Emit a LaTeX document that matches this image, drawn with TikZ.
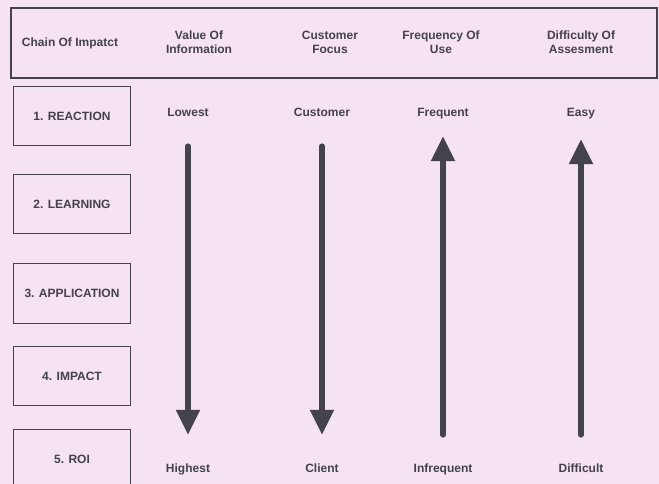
\documentclass[tikz,border=0pt]{standalone}
\usepackage{fontspec}
\setmainfont{Liberation Sans}
\usetikzlibrary{positioning, arrows.meta}

\definecolor{scanpink}{RGB}{245,226,243}
\definecolor{inkgray}{RGB}{68,66,76}

\begin{document}
\begin{tikzpicture}[
x=1pt, y=-1pt,
    header/.style={draw=inkgray, line width=1.8pt, minimum width=646pt, minimum height=70pt, anchor=north west, inner sep=0pt},
    level/.style={draw=inkgray, line width=1pt, minimum width=117pt, minimum height=59pt, anchor=north west, font=\bfseries\fontsize{12}{14}\selectfont, text=inkgray},
    colhead/.style={align=center, font=\bfseries\fontsize{12}{14}\selectfont, text=inkgray},
    endlabel/.style={inner sep=2pt, text height=9pt, text depth=3pt, font=\bfseries\fontsize{12}{14}\selectfont, text=inkgray},
    trend/.style={draw=inkgray, line width=5.5pt, line cap=round, -{Triangle[width=23pt, length=25pt]}}
]

    % --- Page and scanned background ---
    \useasboundingbox (0,0) rectangle (659,484);
    \clip (0,0) rectangle (659,484);
    \fill[scanpink] (0,0) rectangle (659,484);

    % --- Header row ---
    \node[header] (head) at (10,7) {};
    \node[colhead] (hchain) at (70,43) {Chain Of Impatct};
    \node[colhead] (hvalue) at (199,42) {Value Of\\Information};
    \node[colhead] (hfocus) at (330,42) {Customer\\Focus};
    \node[colhead] (hfreq) at (441,42) {Frequency Of\\Use};
    \node[colhead] (hdiff) at (581,42) {Difficulty Of\\Assesment};

    % --- Levels of the chain ---
    \node[level] (reaction) at (13,86) {1. REACTION};
    \node[level] (learning) at (13,174) {2. LEARNING};
    \node[level, minimum height=60pt] (application) at (13,263) {3. APPLICATION};
    \node[level] (impact) at (13,346) {4. IMPACT};
    \node[level] (roi) at (13,429) {5. ROI};

    % --- Labels at both ends of the arrows ---
    \node[endlabel] (lowest) at (188,114) {Lowest};
    \node[endlabel] (highest) at (188,469) {Highest};
    \node[endlabel] (customer) at (322,114) {Customer};
    \node[endlabel] (client) at (322,469) {Client};
    \node[endlabel] (frequent) at (443,114) {Frequent};
    \node[endlabel] (infrequent) at (443,469) {Infrequent};
    \node[endlabel] (easy) at (581,114) {Easy};
    \node[endlabel] (difficult) at (581,469) {Difficult};

    % --- Trend arrows ---
    \draw[trend, shorten <=24pt, shorten >=26pt] (lowest) -- (highest);
    \draw[trend, shorten <=24pt, shorten >=26pt] (customer) -- (client);
    \draw[trend, shorten <=26pt, shorten >=14pt] (infrequent) -- (frequent);
    \draw[trend, shorten <=26pt, shorten >=17pt] (difficult) -- (easy);

\end{tikzpicture}
\end{document}
